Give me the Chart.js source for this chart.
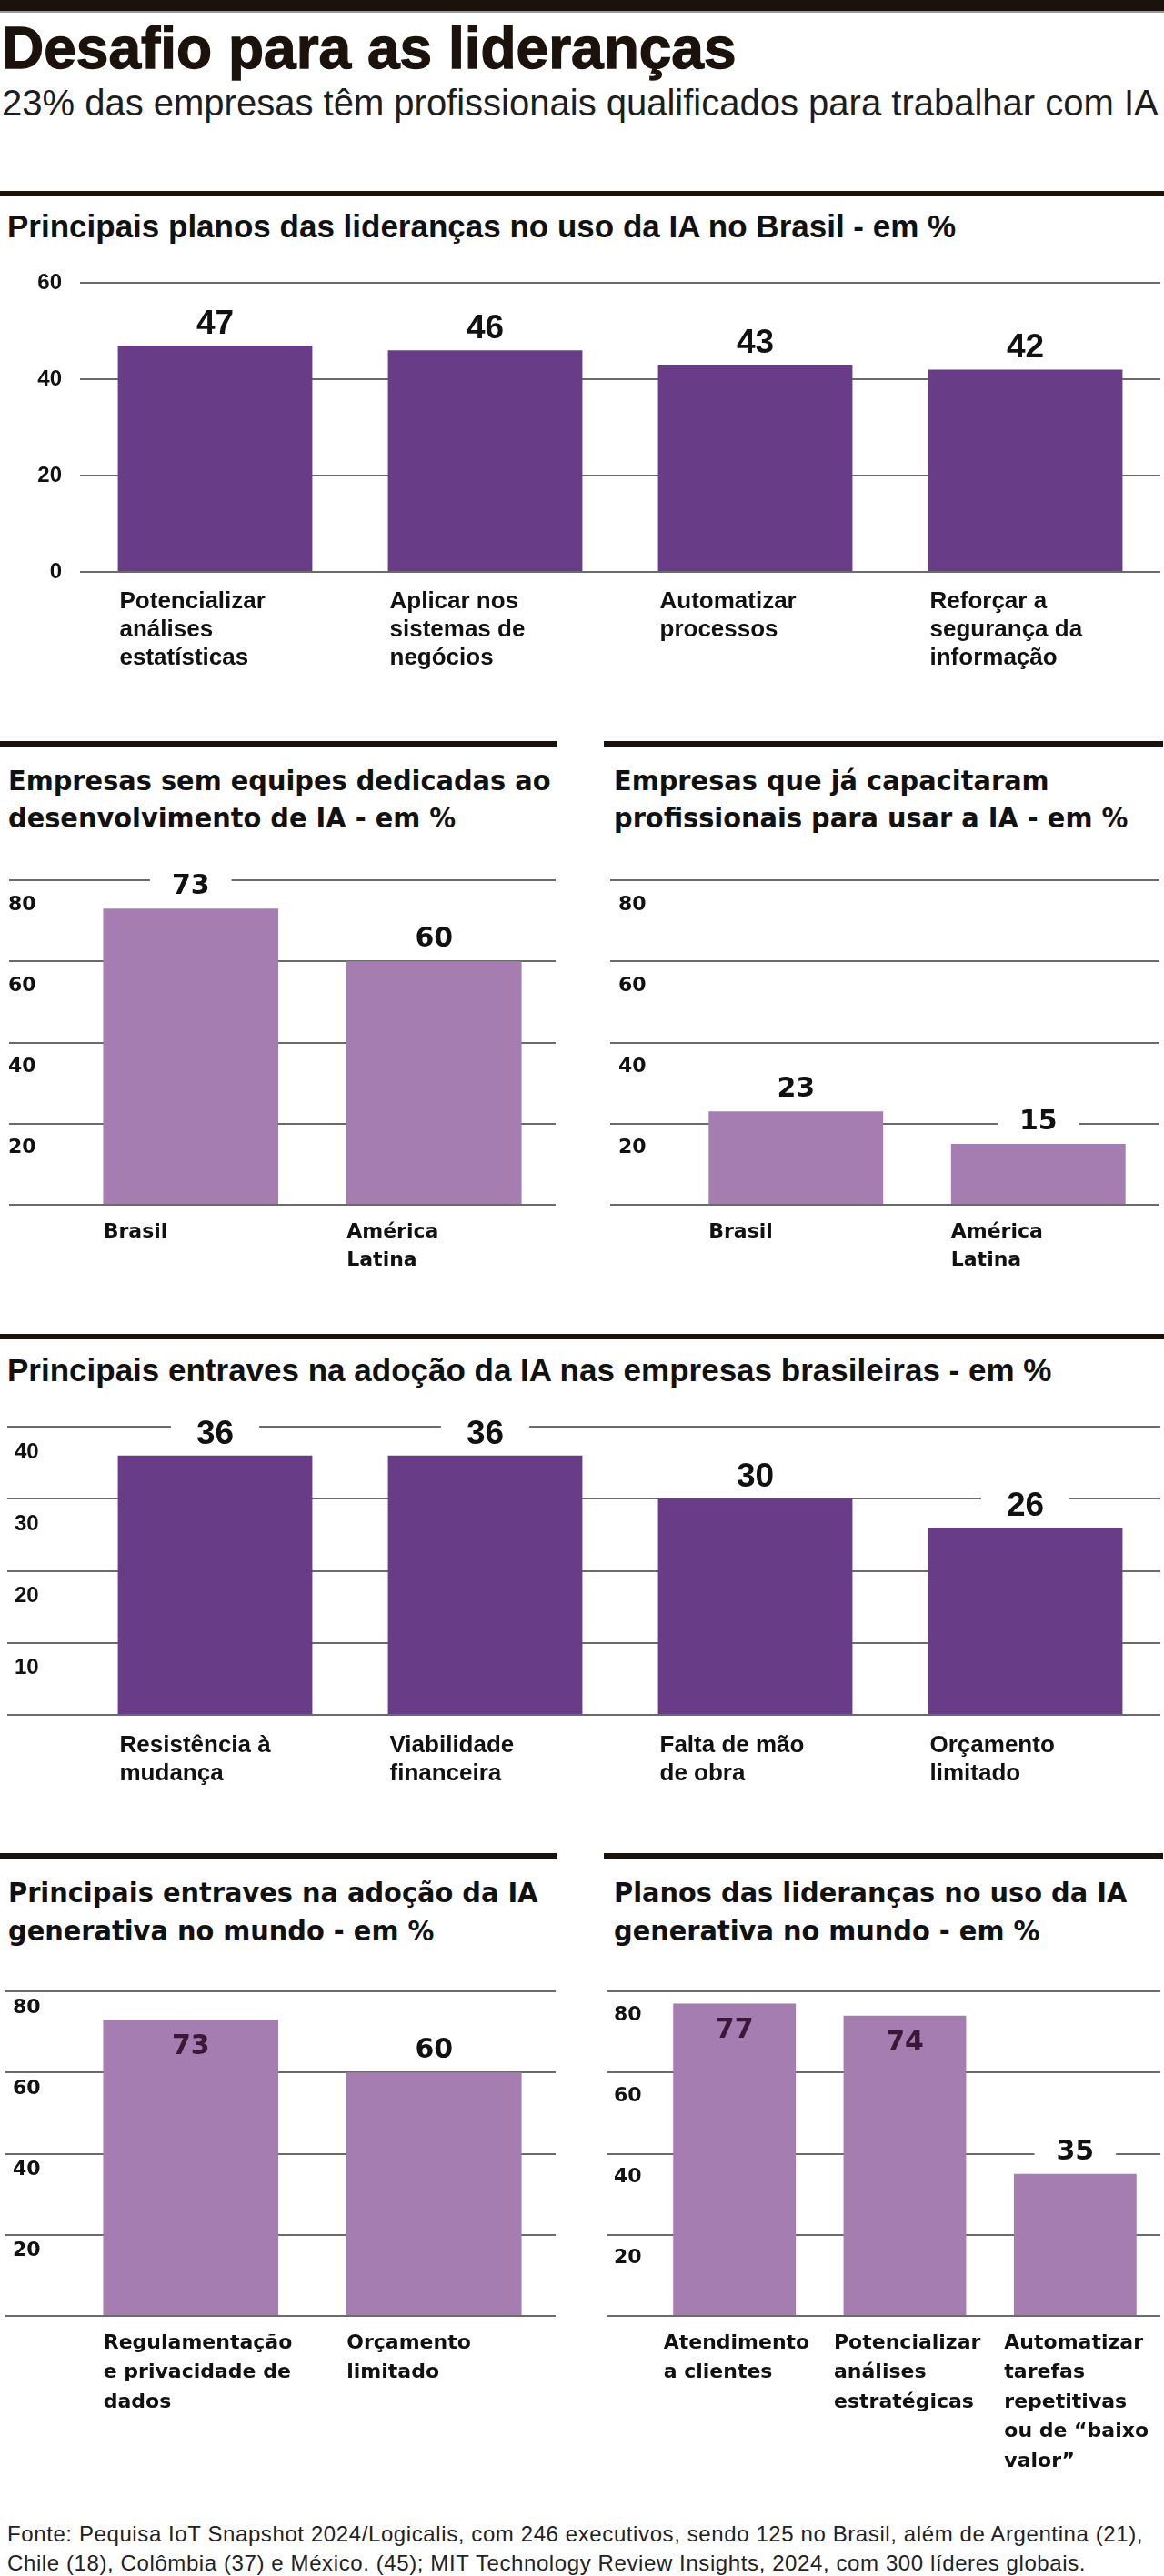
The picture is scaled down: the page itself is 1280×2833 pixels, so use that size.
<!DOCTYPE html>
<html lang="pt-BR">
<head>
<meta charset="utf-8">
<title>Desafio para as lideranças</title>
<script src="https://cdn.jsdelivr.net/npm/chart.js@4.4.1/dist/chart.umd.min.js"></script>
<style>
  body { margin: 0; background: #fff; }
  .page { position: relative; width: 1280px; height: 2833px; overflow: hidden; background: #fff; color: #111; }
  .page canvas, .rule, .txt { position: absolute; }
  .rule { background: #1b120b; }
  .txt { margin: 0; white-space: nowrap; }
  .headline { left: 2px; top: 21px; font: bold 64px/64px 'Liberation Sans', Arial, sans-serif; color: #1b120b; -webkit-text-stroke: 1.3px #1b120b; }
  .subhead { left: 2px; top: 93px; font: 40px/40px 'Liberation Sans', Arial, sans-serif; color: #1d1d1d; }
  .wide-title { left: 8px; font: bold 35px/35px 'Liberation Sans', Arial, sans-serif; }
  .half-title { font: bold 31px/41px 'DejaVu Sans', Verdana, sans-serif; transform: scaleX(0.93); transform-origin: 0 0; }
  .source { left: 8px; top: 2771px; font: 24px/32px 'Liberation Sans', Arial, sans-serif; letter-spacing: 0.6px; color: #222; }
</style>
</head>
<body>
<div class="page">
  <div class="rule" style="left:0;top:0;width:1280px;height:12px"></div>
  <div class="rule" style="left:0;top:12px;width:1280px;height:2px;background:#9a9a9a"></div>
  <h1 class="txt headline">Desafio para as lideranças</h1>
  <p class="txt subhead">23% das empresas têm profissionais qualificados para trabalhar com IA</p>

  <div class="rule" style="left:0;top:210px;width:1280px;height:6px"></div>
  <h2 class="txt wide-title" style="top:231px">Principais planos das lideranças no uso da IA no Brasil - em %</h2>
  <canvas id="planos" width="1280" height="470" style="left:0;top:290px"></canvas>

  <div class="rule" style="left:0;top:815px;width:612px;height:7px"></div>
  <h2 class="txt half-title" style="left:9px;top:838px">Empresas sem equipes dedicadas ao<br>desenvolvimento de IA - em %</h2>
  <canvas id="semEquipes" width="640" height="500" style="left:0;top:940px"></canvas>

  <div class="rule" style="left:664px;top:815px;width:615px;height:7px"></div>
  <h2 class="txt half-title" style="left:675px;top:838px">Empresas que já capacitaram<br>profissionais para usar a IA - em %</h2>
  <canvas id="capacitaram" width="640" height="500" style="left:640px;top:940px"></canvas>

  <div class="rule" style="left:0;top:1467px;width:1280px;height:6px"></div>
  <h2 class="txt wide-title" style="top:1489px">Principais entraves na adoção da IA nas empresas brasileiras - em %</h2>
  <canvas id="entravesBr" width="1280" height="440" style="left:0;top:1540px"></canvas>

  <div class="rule" style="left:0;top:2038px;width:612px;height:7px"></div>
  <h2 class="txt half-title" style="left:9px;top:2060px;line-height:42px">Principais entraves na adoção da IA<br>generativa no mundo - em %</h2>
  <canvas id="entravesMundo" width="640" height="520" style="left:0;top:2160px"></canvas>

  <div class="rule" style="left:664px;top:2038px;width:615px;height:7px"></div>
  <h2 class="txt half-title" style="left:675px;top:2060px;line-height:42px">Planos das lideranças no uso da IA<br>generativa no mundo - em %</h2>
  <canvas id="planosMundo" width="640" height="580" style="left:640px;top:2160px"></canvas>

  <p class="txt source">Fonte: Pequisa IoT Snapshot 2024/Logicalis, com 246 executivos, sendo 125 no Brasil, além de Argentina (21),<br>Chile (18), Colômbia (37) e México. (45); MIT Technology Review Insights, 2024, com 300 líderes globais.</p>
</div>

<script>
/*data*/
const planosLabels = [['Potencializar', 'análises', 'estatísticas'], ['Aplicar nos', 'sistemas de', 'negócios'], ['Automatizar', 'processos'], ['Reforçar a', 'segurança da', 'informação']];
const planosValues = [47, 46, 43, 42];
const planosTicks = [0, 20, 40, 60];

const semEquipesLabels = ['Brasil', ['América', 'Latina']];
const semEquipesValues = [73, 60];
const semEquipesTicks = [20, 40, 60, 80];

const capacitaramLabels = ['Brasil', ['América', 'Latina']];
const capacitaramValues = [23, 15];
const capacitaramTicks = [20, 40, 60, 80];

const entravesBrLabels = [['Resistência à', 'mudança'], ['Viabilidade', 'financeira'], ['Falta de mão', 'de obra'], ['Orçamento', 'limitado']];
const entravesBrValues = [36, 36, 30, 26];
const entravesBrTicks = [10, 20, 30, 40];

const entravesMundoLabels = [['Regulamentação', 'e privacidade de', 'dados'], ['Orçamento', 'limitado']];
const entravesMundoValues = [73, 60];
const entravesMundoTicks = [20, 40, 60, 80];

const planosMundoLabels = [['Atendimento', 'a clientes'], ['Potencializar', 'análises', 'estratégicas'], ['Automatizar', 'tarefas', 'repetitivas', 'ou de “baixo', 'valor”']];
const planosMundoValues = [77, 74, 35];
const planosMundoTicks = [20, 40, 60, 80];


/*styles*/
const FONT_WIDE = "'Liberation Sans', Arial, sans-serif";
const FONT_HALF = "'DejaVu Sans', Verdana, sans-serif";
const DARK = '#693c87';
const LIGHT = '#a67db0';
const GRID = '#6b6b6b';

// numbers over (or inside) the bars, with a white patch that cuts the grid line
const valueLabels = {
  id: 'valueLabels',
  afterDatasetsDraw(chart, args, o) {
    const ctx = chart.ctx;
    const values = chart.data.datasets[0].data;
    ctx.save();
    ctx.font = o.font;
    ctx.textAlign = 'center';
    ctx.textBaseline = 'alphabetic';
    chart.getDatasetMeta(0).data.forEach(function (bar, i) {
      const txt = String(values[i]);
      if (o.inside && o.inside[i]) {
        ctx.fillStyle = '#3a1838';
        ctx.fillText(txt, bar.x, bar.y + o.insideGap);
        return;
      }
      const y = bar.y - o.gap;
      const w = ctx.measureText(txt).width + o.clear * 2;
      ctx.fillStyle = '#fff';
      ctx.fillRect(bar.x - w / 2, y - o.capH - 5, w, o.capH + 9);
      ctx.fillStyle = '#111';
      ctx.fillText(txt, bar.x, y);
    });
    ctx.restore();
  }
};

function barChart(id, labels, values, ticks, s) {
  const step = ticks[1] - ticks[0];
  return new Chart(document.getElementById(id), {
    type: 'bar',
    data: {
      labels: labels,
      datasets: [{
        data: values,
        backgroundColor: s.color,
        categoryPercentage: 1,
        barPercentage: 0.72
      }]
    },
    options: {
      responsive: false,
      animation: false,
      devicePixelRatio: 1,
      layout: { padding: s.pad },
      plugins: {
        legend: { display: false },
        tooltip: { enabled: false },
        valueLabels: s.value
      },
      scales: {
        x: {
          grid: { display: false, drawTicks: false },
          border: { display: false },
          ticks: {
            autoSkip: false,
            maxRotation: 0,
            minRotation: 0,
            align: 'start',
            labelOffset: s.xOffset,
            padding: s.xPad,
            color: '#111',
            font: s.xFont
          },
          afterFit: function (scale) {
            scale.height = s.xHeight;
            scale.paddingLeft = 0;
            scale.paddingRight = 0;
          }
        },
        y: {
          min: 0,
          max: ticks[ticks.length - 1],
          grid: { color: GRID, lineWidth: 2, drawTicks: s.tickLen > 0, tickLength: s.tickLen },
          border: { display: false },
          ticks: {
            stepSize: step,
            padding: s.yPad || 0,
            crossAlign: s.yAlign,
            labelOffset: s.yOffset,
            color: '#111',
            font: s.yFont,
            callback: function (v) { return ticks.includes(v) ? String(v) : ''; }
          },
          afterFit: function (scale) {
            scale.width = s.yWidth;
            scale.paddingTop = 0;
            scale.paddingBottom = 0;
          }
        }
      }
    },
    plugins: [valueLabels]
  });
}

const wideY = { family: FONT_WIDE, size: 24, weight: 'bold' };
const wideX = { family: FONT_WIDE, size: 26, weight: 'bold', lineHeight: '31px' };
const wideValue = { font: "bold 37px 'Liberation Sans', Arial, sans-serif", gap: 13, capH: 27, clear: 28 };
const halfY = { family: FONT_HALF, size: 22, weight: 'bold' };
const halfX = { family: FONT_HALF, size: 22, weight: 'bold', lineHeight: '31px' };
const halfXTall = { family: FONT_HALF, size: 22, weight: 'bold', lineHeight: '32.5px' };
const halfValue = { font: "bold 30px 'DejaVu Sans', Verdana, sans-serif", gap: 16, capH: 22, clear: 24 };


/*charts*/
barChart('planos', planosLabels, planosValues, planosTicks, {
  color: DARK, pad: { left: 0, right: 4, top: 21, bottom: 0 },
  yWidth: 88, tickLen: 0, yAlign: 'near', yPad: 20, yOffset: 0, yFont: wideY,
  xFont: wideX, xPad: 17, xOffset: -105, xHeight: 131,
  value: wideValue
});

barChart('semEquipes', semEquipesLabels, semEquipesValues, semEquipesTicks, {
  color: LIGHT, pad: { left: 9, right: 29, top: 28, bottom: 0 },
  yWidth: 67, tickLen: 66, yAlign: 'far', yOffset: 27, yFont: halfY,
  xFont: halfX, xPad: 15, xOffset: -96, xHeight: 115,
  value: halfValue
});

barChart('capacitaram', capacitaramLabels, capacitaramValues, capacitaramTicks, {
  color: LIGHT, pad: { left: 40, right: 5, top: 28, bottom: 0 },
  yWidth: 62, tickLen: 71, yAlign: 'far', yOffset: 27, yFont: halfY,
  xFont: halfX, xPad: 15, xOffset: -96, xHeight: 115,
  value: halfValue
});

barChart('entravesBr', entravesBrLabels, entravesBrValues, entravesBrTicks, {
  color: DARK, pad: { left: 16, right: 4, top: 29, bottom: 0 },
  yWidth: 72, tickLen: 80, yAlign: 'far', yOffset: 28, yFont: wideY,
  xFont: wideX, xPad: 18.5, xOffset: -105, xHeight: 94,
  value: wideValue
});

barChart('entravesMundo', entravesMundoLabels, entravesMundoValues, entravesMundoTicks, {
  color: LIGHT, pad: { left: 14, right: 29, top: 30, bottom: 0 },
  yWidth: 62, tickLen: 70, yAlign: 'far', yOffset: 18, yFont: halfY,
  xFont: halfXTall, xPad: 14, xOffset: -96, xHeight: 133,
  value: Object.assign({ inside: [true, false], insideGap: 38 }, halfValue)
});

barChart('planosMundo', planosMundoLabels, planosMundoValues, planosMundoTicks, {
  color: LIGHT, pad: { left: 35, right: 4, top: 30, bottom: 0 },
  yWidth: 39, tickLen: 46, yAlign: 'far', yOffset: 26, yFont: halfY,
  xFont: halfXTall, xPad: 14, xOffset: -78, xHeight: 193,
  value: Object.assign({ inside: [true, true, false], insideGap: 38 }, halfValue)
});
</script>
</body>
</html>
